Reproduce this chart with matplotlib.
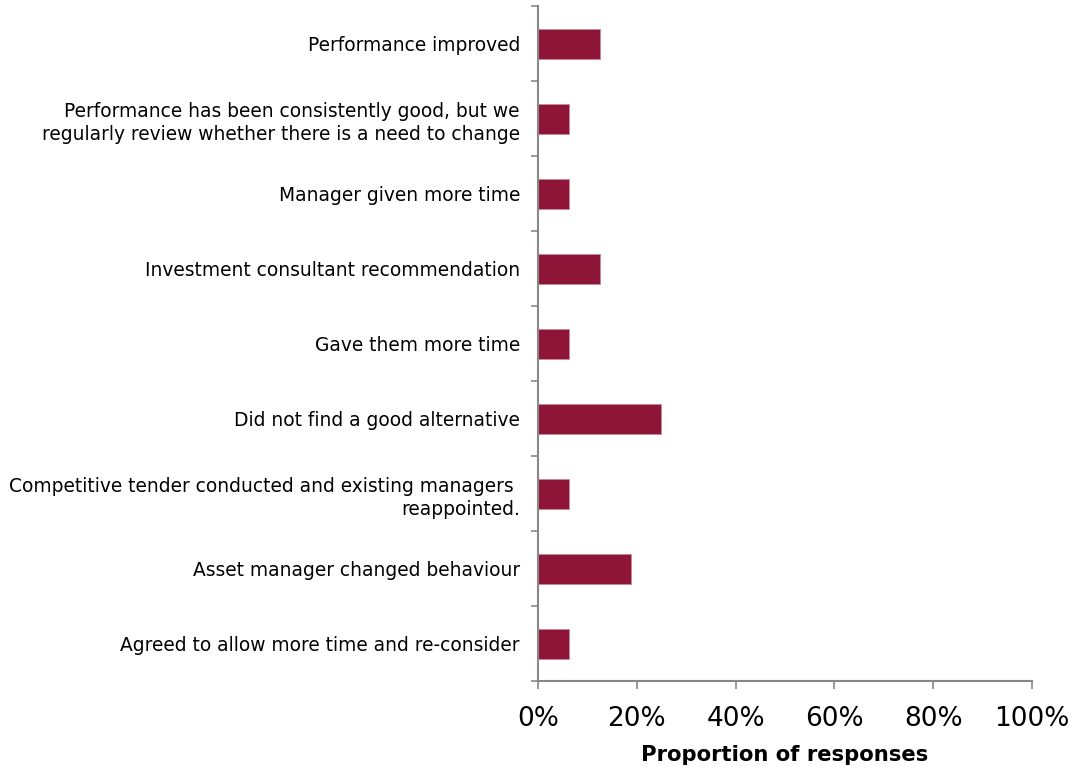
import matplotlib
matplotlib.use("Agg")
import matplotlib.pyplot as plt
from matplotlib.ticker import PercentFormatter, FixedLocator

# categories listed top to bottom as in the chart
categories = [
    "Performance improved",
    "Performance has been consistently good, but we\nregularly review whether there is a need to change",
    "Manager given more time",
    "Investment consultant recommendation",
    "Gave them more time",
    "Did not find a good alternative",
    "Competitive tender conducted and existing managers \nreappointed.",
    "Asset manager changed behaviour",
    "Agreed to allow more time and re-consider",
]
share = [12.5, 6.25, 6.25, 12.5, 6.25, 25.0, 6.25, 18.75, 6.25]

BAR_COLOR = "#8E1538"
AXIS_COLOR = "#888888"

fig = plt.figure(figsize=(10.76, 7.67), dpi=100)
ax = fig.add_axes([0.5, 0.112, 0.459, 0.88])

n = len(categories)
ypos = list(range(n))[::-1]
ax.barh(ypos, share, height=0.4, color=BAR_COLOR, edgecolor="#c7899a", linewidth=0.6)

ax.set_xlim(0, 100)
ax.set_ylim(-0.5, n - 0.5)
ax.set_xticks([0, 20, 40, 60, 80, 100])
ax.xaxis.set_major_formatter(PercentFormatter(decimals=0))

ax.set_yticks(ypos)
ax.set_yticklabels(categories, fontsize=13.4, ha="right", linespacing=1.3)
ax.tick_params(axis="y", which="major", length=0, pad=13)
# category boundary ticks
ax.yaxis.set_minor_locator(FixedLocator([i - 0.5 for i in range(n + 1)]))
ax.tick_params(axis="y", which="minor", length=5, color=AXIS_COLOR, width=1.2)
ax.tick_params(axis="x", labelsize=19, length=6, color=AXIS_COLOR, width=1.2, pad=12)

for side in ["top", "right"]:
    ax.spines[side].set_visible(False)
for side in ["left", "bottom"]:
    ax.spines[side].set_color(AXIS_COLOR)
    ax.spines[side].set_linewidth(1.5)

ax.set_xlabel("Proportion of responses", fontsize=15.2, fontweight="bold", labelpad=9)

fig.savefig("out.png", dpi=100)
